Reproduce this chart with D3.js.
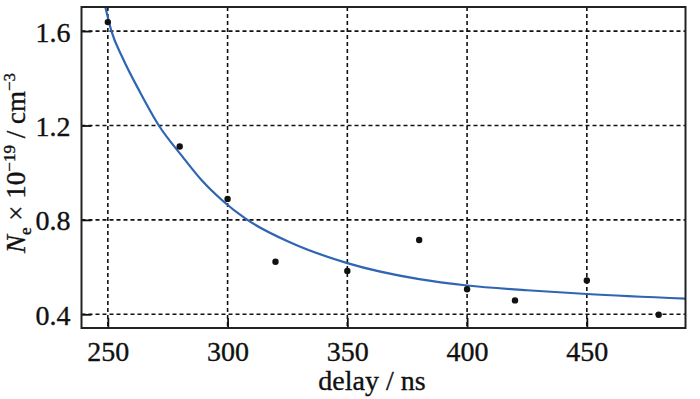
<!DOCTYPE html>
<html>
<head>
<meta charset="utf-8">
<script src="https://cdn.jsdelivr.net/npm/d3@7"></script>
<style>
  html, body { margin: 0; padding: 0; background: #fff; }
  svg text { font-family: "Liberation Serif", "Times New Roman", Tinos, serif; fill: #111; stroke: #111; stroke-width: 0.35px; }
</style>
</head>
<body>
<div id="chart"></div>
<script>
// measured points (delay in ns, Ne in 1e19 cm^-3)
const delays = [250, 280, 300, 320, 350, 380, 400, 420, 450, 480];
const density = [1.638, 1.111, 0.889, 0.623, 0.584, 0.715, 0.506, 0.459, 0.543, 0.398];

// fitted curve
const fitDelay = [249.0, 251.5, 256, 263.5, 271.3, 281, 289, 298.3, 307.5, 326, 350, 380, 400, 425, 450, 491.5];
const fitValue = [1.70, 1.60, 1.49, 1.34, 1.20, 1.07, 0.97, 0.878, 0.805, 0.705, 0.617, 0.549, 0.522, 0.502, 0.486, 0.466];

const xTicks = [250, 300, 350, 400, 450];
const yTicks = [0.4, 0.8, 1.2, 1.6];

const width = 700;
const height = 399;
const plot = {left: 81.5, right: 685.5, top: 7, bottom: 328};

const svg = d3.select("#chart")
    .append("svg")
    .attr("width", width)
    .attr("height", height);

const x = d3.scaleLinear().domain([239, 491.2]).range([plot.left, plot.right]);
const y = d3.scaleLinear().domain([0.342, 1.702]).range([plot.bottom, plot.top]);

svg.append("clipPath").attr("id", "clip")
    .append("rect")
    .attr("x", plot.left).attr("y", plot.top)
    .attr("width", plot.right - plot.left).attr("height", plot.bottom - plot.top);

// dashed grid
const grid = svg.append("g")
    .attr("stroke", "#111")
    .attr("stroke-width", 1.6)
    .attr("stroke-dasharray", "4,3");

grid.selectAll(".vgrid")
    .data(xTicks)
    .join("line")
    .attr("x1", d => x(d)).attr("x2", d => x(d))
    .attr("y1", plot.top).attr("y2", plot.bottom);

grid.selectAll(".hgrid")
    .data(yTicks)
    .join("line")
    .attr("x1", plot.left).attr("x2", plot.right)
    .attr("y1", d => y(d)).attr("y2", d => y(d));

// axes with inward ticks
const xAxis = svg.append("g")
    .attr("transform", `translate(0, ${plot.bottom})`)
    .call(d3.axisBottom(x).tickValues(xTicks).tickSizeInner(-10).tickSizeOuter(0).tickPadding(13));

const yAxis = svg.append("g")
    .attr("transform", `translate(${plot.left}, 0)`)
    .call(d3.axisLeft(y).tickValues(yTicks).tickFormat(d3.format(".1f")).tickSizeInner(-10).tickSizeOuter(0).tickPadding(11));

[xAxis, yAxis].forEach(a => {
    a.select(".domain").remove();
    a.selectAll(".tick line").attr("stroke", "#111").attr("stroke-width", 1.8);
    a.selectAll(".tick text").attr("font-size", 28);
});
xAxis.selectAll(".tick text").attr("dy", "0.71em");
yAxis.selectAll(".tick text").attr("dy", "0.36em");

// fitted curve
const line = d3.line()
    .x(d => x(d[0]))
    .y(d => y(d[1]))
    .curve(d3.curveMonotoneX);

svg.append("path")
    .datum(d3.zip(fitDelay, fitValue))
    .attr("clip-path", "url(#clip)")
    .attr("fill", "none")
    .attr("stroke", "#2f65b3")
    .attr("stroke-width", 2.2)
    .attr("d", line);

// data points
svg.append("g")
    .selectAll("circle")
    .data(d3.zip(delays, density))
    .join("circle")
    .attr("cx", d => x(d[0]))
    .attr("cy", d => y(d[1]))
    .attr("r", 3.2)
    .attr("fill", "#111");

// frame
svg.append("rect")
    .attr("x", plot.left).attr("y", plot.top)
    .attr("width", plot.right - plot.left).attr("height", plot.bottom - plot.top)
    .attr("fill", "none")
    .attr("stroke", "#222")
    .attr("stroke-width", 2);

// axis titles
svg.append("text")
    .attr("x", 372)
    .attr("y", 390)
    .attr("text-anchor", "middle")
    .attr("font-size", 28)
    .text("delay / ns");

const yLabel = svg.append("text")
    .attr("transform", "translate(25, 163) rotate(-90)")
    .attr("text-anchor", "middle")
    .attr("font-size", 27);

yLabel.append("tspan").attr("font-style", "italic").text("N");
yLabel.append("tspan").attr("font-size", 17).attr("dy", 6).text("e");
yLabel.append("tspan").attr("dy", -6).text(" × 10");
yLabel.append("tspan").attr("font-size", 17).attr("dy", -10).text("−19");
yLabel.append("tspan").attr("dy", 10).text(" / cm");
yLabel.append("tspan").attr("font-size", 17).attr("dy", -10).text("−3");
</script>
</body>
</html>
